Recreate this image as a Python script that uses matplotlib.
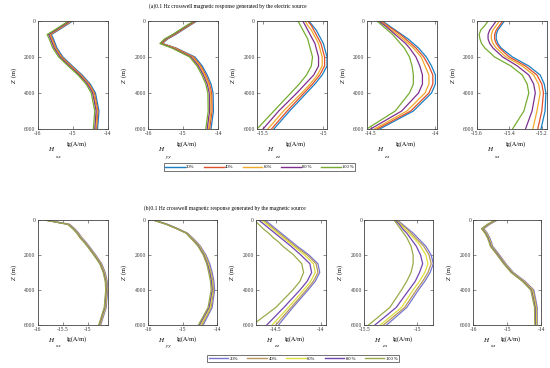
import matplotlib
matplotlib.use("Agg")
import matplotlib.pyplot as plt
from matplotlib.lines import Line2D

plt.rcParams['font.family'] = ['Liberation Serif', 'DejaVu Serif']
plt.rcParams['mathtext.fontset'] = 'stix'
plt.rcParams['axes.unicode_minus'] = False

# --- data ---
DEPTH = [0, 250, 500, 750, 1000, 1250, 1500, 2000, 2500, 3000, 3500, 4000, 5000, 6000]
LEVELS = ['20%', '40%', '60%', '80 %', '100 %']

# (a) electric source, rows: 20%, 40%, 60%, 80%, 100%
A_XX = [
    [-15.00, -15.20, -15.40, -15.61, -15.55, -15.50, -15.45, -15.28, -15.01, -14.73, -14.50, -14.35, -14.25, -14.29],
    [-15.03, -15.23, -15.43, -15.64, -15.58, -15.53, -15.48, -15.31, -15.04, -14.76, -14.53, -14.38, -14.28, -14.32],
    [-15.05, -15.25, -15.45, -15.66, -15.60, -15.55, -15.50, -15.33, -15.06, -14.78, -14.55, -14.40, -14.30, -14.34],
    [-15.08, -15.28, -15.48, -15.69, -15.63, -15.58, -15.53, -15.36, -15.09, -14.81, -14.58, -14.43, -14.33, -14.37],
    [-15.12, -15.32, -15.52, -15.73, -15.67, -15.62, -15.57, -15.40, -15.13, -14.85, -14.62, -14.47, -14.37, -14.41],
]
A_YY = [
    [-14.60, -14.81, -15.01, -15.21, -15.44, -15.59, -15.20, -14.66, -14.45, -14.31, -14.20, -14.14, -14.13, -14.20],
    [-14.62, -14.83, -15.03, -15.23, -15.46, -15.60, -15.22, -14.70, -14.49, -14.35, -14.24, -14.18, -14.17, -14.24],
    [-14.64, -14.85, -15.05, -15.25, -15.48, -15.62, -15.25, -14.73, -14.52, -14.38, -14.27, -14.21, -14.20, -14.27],
    [-14.66, -14.87, -15.07, -15.27, -15.50, -15.64, -15.29, -14.77, -14.56, -14.42, -14.31, -14.25, -14.24, -14.31],
    [-14.69, -14.90, -15.10, -15.30, -15.53, -15.66, -15.32, -14.81, -14.60, -14.46, -14.35, -14.29, -14.28, -14.35],
]
A_ZZ = [
    [-15.12, -15.09, -15.06, -15.04, -15.02, -15.00, -14.99, -14.97, -14.97, -15.01, -15.07, -15.14, -15.28, -15.41],
    [-15.13, -15.10, -15.08, -15.06, -15.04, -15.02, -15.01, -14.99, -14.99, -15.03, -15.09, -15.16, -15.30, -15.43],
    [-15.15, -15.13, -15.10, -15.08, -15.06, -15.04, -15.03, -15.01, -15.01, -15.05, -15.11, -15.18, -15.33, -15.46],
    [-15.17, -15.15, -15.13, -15.11, -15.09, -15.07, -15.06, -15.04, -15.04, -15.08, -15.15, -15.22, -15.37, -15.50],
    [-15.21, -15.19, -15.17, -15.15, -15.13, -15.12, -15.11, -15.09, -15.10, -15.14, -15.20, -15.27, -15.41, -15.55],
]
A_ZX = [
    [-14.41, -14.36, -14.31, -14.26, -14.21, -14.17, -14.13, -14.07, -14.03, -14.00, -14.00, -14.03, -14.17, -14.43],
    [-14.42, -14.37, -14.32, -14.27, -14.23, -14.19, -14.15, -14.09, -14.05, -14.02, -14.02, -14.05, -14.19, -14.45],
    [-14.43, -14.38, -14.34, -14.29, -14.25, -14.21, -14.17, -14.11, -14.08, -14.05, -14.05, -14.08, -14.22, -14.47],
    [-14.44, -14.39, -14.35, -14.31, -14.27, -14.23, -14.20, -14.15, -14.12, -14.10, -14.10, -14.13, -14.26, -14.50],
    [-14.45, -14.41, -14.37, -14.33, -14.30, -14.27, -14.24, -14.20, -14.18, -14.17, -14.17, -14.20, -14.31, -14.53],
]
A_XZ = [
    [-15.43, -15.45, -15.47, -15.48, -15.48, -15.47, -15.45, -15.38, -15.28, -15.21, -15.185, -15.175, -15.18, -15.205],
    [-15.44, -15.46, -15.48, -15.49, -15.49, -15.48, -15.46, -15.40, -15.30, -15.23, -15.20, -15.19, -15.20, -15.225],
    [-15.46, -15.48, -15.50, -15.51, -15.51, -15.50, -15.48, -15.42, -15.32, -15.25, -15.22, -15.21, -15.23, -15.255],
    [-15.48, -15.50, -15.52, -15.53, -15.53, -15.52, -15.50, -15.44, -15.35, -15.28, -15.25, -15.24, -15.26, -15.30],
    [-15.53, -15.55, -15.575, -15.585, -15.58, -15.57, -15.55, -15.49, -15.39, -15.32, -15.29, -15.28, -15.31, -15.38],
]

# (b) magnetic source
B_XX = [
    [-15.83, -15.36, -15.26, -15.18, -15.12, -15.04, -14.97, -14.84, -14.72, -14.65, -14.61, -14.60, -14.63, -14.74],
    [-15.84, -15.37, -15.27, -15.19, -15.13, -15.05, -14.98, -14.85, -14.73, -14.66, -14.62, -14.61, -14.64, -14.75],
    [-15.85, -15.38, -15.28, -15.20, -15.14, -15.06, -14.99, -14.86, -14.74, -14.67, -14.63, -14.62, -14.65, -14.76],
    [-15.86, -15.39, -15.29, -15.21, -15.15, -15.07, -15.00, -14.87, -14.75, -14.68, -14.64, -14.63, -14.66, -14.77],
    [-15.87, -15.40, -15.30, -15.22, -15.16, -15.08, -15.01, -14.88, -14.76, -14.69, -14.65, -14.64, -14.67, -14.78],
]
B_YY = [
    [-15.82, -15.43, -15.13, -14.86, -14.72, -14.59, -14.48, -14.32, -14.21, -14.14, -14.09, -14.07, -14.14, -14.40],
    [-15.83, -15.44, -15.14, -14.87, -14.74, -14.61, -14.50, -14.34, -14.24, -14.17, -14.12, -14.10, -14.17, -14.44],
    [-15.84, -15.45, -15.15, -14.88, -14.75, -14.62, -14.51, -14.36, -14.26, -14.19, -14.14, -14.12, -14.20, -14.47],
    [-15.85, -15.46, -15.16, -14.89, -14.77, -14.64, -14.53, -14.38, -14.28, -14.21, -14.16, -14.14, -14.23, -14.51],
    [-15.86, -15.47, -15.17, -14.90, -14.78, -14.66, -14.55, -14.40, -14.30, -14.24, -14.19, -14.17, -14.26, -14.54],
]
B_ZZ = [
    [-14.62, -14.56, -14.50, -14.44, -14.38, -14.32, -14.26, -14.13, -14.03, -14.01, -14.06, -14.14, -14.31, -14.47],
    [-14.64, -14.58, -14.52, -14.46, -14.40, -14.34, -14.28, -14.15, -14.05, -14.03, -14.08, -14.16, -14.33, -14.50],
    [-14.66, -14.60, -14.54, -14.48, -14.42, -14.36, -14.30, -14.18, -14.08, -14.06, -14.11, -14.19, -14.36, -14.54],
    [-14.69, -14.63, -14.57, -14.51, -14.45, -14.39, -14.33, -14.22, -14.12, -14.10, -14.15, -14.23, -14.41, -14.60],
    [-14.74, -14.69, -14.64, -14.58, -14.53, -14.47, -14.42, -14.30, -14.21, -14.19, -14.23, -14.31, -14.50, -14.76],
]
B_ZX = [
    [-15.19, -15.14, -15.09, -15.04, -15.00, -14.96, -14.92, -14.87, -14.85, -14.88, -14.93, -14.99, -15.10, -15.29],
    [-15.20, -15.15, -15.10, -15.06, -15.02, -14.98, -14.94, -14.89, -14.87, -14.90, -14.95, -15.01, -15.12, -15.32],
    [-15.20, -15.16, -15.12, -15.08, -15.04, -15.00, -14.97, -14.92, -14.90, -14.93, -14.98, -15.04, -15.15, -15.35],
    [-15.21, -15.17, -15.14, -15.10, -15.07, -15.04, -15.01, -14.97, -14.95, -14.98, -15.02, -15.08, -15.20, -15.40],
    [-15.22, -15.19, -15.16, -15.13, -15.10, -15.08, -15.06, -15.04, -15.04, -15.06, -15.10, -15.15, -15.26, -15.46],
]
B_XZ = [
    [-15.29, -15.52, -15.69, -15.59, -15.52, -15.47, -15.43, -15.23, -15.04, -14.82, -14.48, -14.22, -14.12, -14.12],
    [-15.31, -15.54, -15.71, -15.61, -15.54, -15.49, -15.45, -15.25, -15.06, -14.84, -14.50, -14.24, -14.14, -14.13],
    [-15.32, -15.55, -15.72, -15.62, -15.55, -15.50, -15.46, -15.27, -15.07, -14.85, -14.52, -14.27, -14.16, -14.15],
    [-15.34, -15.57, -15.74, -15.64, -15.57, -15.52, -15.48, -15.28, -15.09, -14.87, -14.54, -14.29, -14.18, -14.17],
    [-15.36, -15.59, -15.76, -15.66, -15.59, -15.54, -15.50, -15.30, -15.11, -14.89, -14.56, -14.31, -14.20, -14.19],
]

COMPONENTS = ['x x', 'y y', 'z z', 'z x', 'x z']
TOP_XLIM = [(-16, -14), (-16, -14), (-15.55, -14.97), (-14.53, -13.99), (-15.585, -15.17)]
TOP_XTICKS = [[-16, -15, -14], [-16, -15, -14], [-15.5, -15], [-14.5, -14], [-15.6, -15.4, -15.2]]
BOT_XLIM = [(-16, -14.6), (-16, -14), (-14.72, -13.94), (-15.46, -14.85), (-16, -14)]
BOT_XTICKS = [[-16, -15.5, -15], [-16, -15, -14], [-14.5, -14], [-15.5, -15], [-16, -15, -14]]

TOP_COLORS = ['#1a7fc4', '#e0502a', '#f0aa2a', '#7e2f8e', '#77ac30']
BOT_COLORS = ['#7676d0', '#b8985c', '#dede3e', '#7444b2', '#9aaa48']

W, H = 550, 368
fig = plt.figure(figsize=(W / 100, H / 100), dpi=100)


def add_panel(left, top, width, height, curves, colors, xlim, xticks, comp, lab_off):
    ax = fig.add_axes([left / W, 1 - (top + height) / H, width / W, height / H])
    for vals, c in zip(curves, colors):
        ax.plot(vals, DEPTH, color=c, lw=0.9)
    ax.set_xlim(*xlim)
    ax.set_ylim(6000, 0)
    ax.set_xticks(xticks)
    ax.set_xticklabels([f'{t:g}' for t in xticks])
    ax.set_yticks([0, 2000, 4000, 6000])
    ax.tick_params(direction='in', length=2, width=0.4, labelsize=4, pad=1.5,
                   top=True, right=True, colors='#333333')
    for s in ax.spines.values():
        s.set_linewidth(0.6)
        s.set_color('#444444')
    ax.set_ylabel(r'$Z$  (m)', fontsize=4.5, labelpad=4)
    ax.set_xlabel('lg(A/m)', fontsize=4.5)
    ax.xaxis.set_label_coords(0.56, lab_off[0])
    ax.text(0.18, lab_off[1], 'H', style='italic', fontsize=5, transform=ax.transAxes,
            ha='center', va='center')
    ax.text(0.29, lab_off[2], comp, style='italic', fontsize=3.5, transform=ax.transAxes,
            ha='center', va='center')
    return ax


top_left = [37.7, 148, 257, 366.7, 476.7]
top_series = [A_XX, A_YY, A_ZZ, A_ZX, A_XZ]
for i in range(5):
    add_panel(top_left[i], 21, 70, 108, top_series[i], TOP_COLORS, TOP_XLIM[i],
              TOP_XTICKS[i], COMPONENTS[i], (-0.11, -0.19, -0.26))

bot_left = [37.7, 148, 256, 364.3, 473.3]
bot_width = [70, 69, 70, 69, 68]
bot_series = [B_XX, B_YY, B_ZZ, B_ZX, B_XZ]
for i in range(5):
    add_panel(bot_left[i], 220, bot_width[i], 105, bot_series[i], BOT_COLORS, BOT_XLIM[i],
              BOT_XTICKS[i], COMPONENTS[i], (-0.11, -0.145, -0.2))

fig.text(228 / W, 1 - 6 / H,
         '(a)0.1 Hz crosswell magnetic response generated by the electric source',
         fontsize=4.0, ha='center', va='center')
fig.text(225 / W, 1 - 208 / H,
         '(b)0.1 Hz crosswell magnetic response generated by the magnetic source',
         fontsize=4.0, ha='center', va='center')


def add_legend(colors, cx, cy):
    handles = [Line2D([], [], color=c, lw=1.0) for c in colors]
    leg = fig.legend(handles, LEVELS, loc='center', bbox_to_anchor=(cx / W, 1 - cy / H),
                     ncol=5, fontsize=3.3, handlelength=4.3, columnspacing=2.0,
                     handletextpad=0.3, borderpad=0.35, frameon=True, fancybox=False)
    leg.get_frame().set_edgecolor('#333333')
    leg.get_frame().set_linewidth(0.6)


add_legend(TOP_COLORS, 259.5, 167)
add_legend(BOT_COLORS, 303, 358.5)

fig.savefig('out.png', dpi=100)
